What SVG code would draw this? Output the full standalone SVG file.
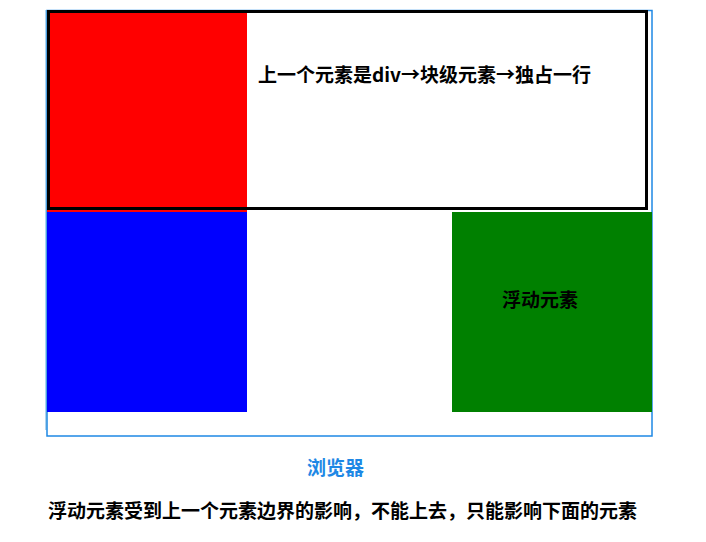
<svg xmlns="http://www.w3.org/2000/svg" width="706" height="542" viewBox="0 0 706 542">
<style>
text{font-family:"Noto Sans CJK SC","Liberation Sans",sans-serif;font-weight:bold;font-size:19px;fill:#000}
.cap{fill:#1e88e5}
</style>
<rect width="706" height="542" fill="#fff"/>
<g id="browser">
<rect x="47" y="10.5" width="605" height="425.5" fill="none" stroke="#1e88e5" stroke-width="1.5"/>
<line x1="46.3" y1="10" x2="46.3" y2="430" stroke="#4a9fe0" stroke-width="1.5"/>
</g>
<g id="red"><rect x="47" y="12" width="200" height="200" fill="#ff0000"/></g>
<g id="block">
<rect x="48.5" y="11.5" width="598" height="197" fill="none" stroke="#000" stroke-width="3"/>
<text x="258" y="82">上一个元素是div→块级元素→独占一行</text>
</g>
<g id="blue"><rect x="47" y="212" width="200" height="200" fill="#0000ff"/></g>
<g id="float">
<rect x="452" y="212" width="200" height="200" fill="#008000"/>
<text x="540" y="307" text-anchor="middle">浮动元素</text>
</g>
<g id="connectors"></g>
<text class="cap" x="335.5" y="475" text-anchor="middle">浏览器</text>
<text x="48" y="518">浮动元素受到上一个元素边界的影响，不能上去，只能影响下面的元素</text>
</svg>
